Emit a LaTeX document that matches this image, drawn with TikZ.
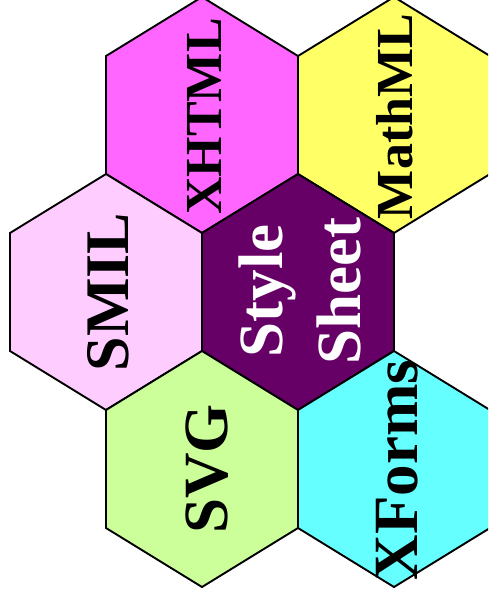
\documentclass[tikz,border=0pt]{standalone}
\usepackage{fontspec}
\setmainfont{Liberation Serif}
\definecolor{cxhtml}{HTML}{FF66FF}
\definecolor{cmathml}{HTML}{FFFF66}
\definecolor{csmil}{HTML}{FFCCFF}
\definecolor{cstyle}{HTML}{660066}
\definecolor{csvg}{HTML}{CCFF99}
\definecolor{cxforms}{HTML}{66FFFF}
\newcommand\hexa[3]{\path[hexline, fill=#3] (#1,#2-118) -- (#1+96,#2-59) -- (#1+96,#2+59) -- (#1,#2+118) -- (#1-96,#2+59) -- (#1-96,#2-59) -- cycle;}
\begin{document}
\begin{tikzpicture}[x=1pt,y=-1pt,
  hexline/.style={draw=black, line width=1.9pt, line join=miter},
  lab/.style={rotate=90, anchor=base, inner sep=0pt, font=\bfseries}]
\clip (0,0) rectangle (488,608);
\hexa{202}{115}{cxhtml}
\hexa{394}{115}{cmathml}
\hexa{106}{292}{csmil}
\hexa{298}{292}{cstyle}
\hexa{202}{469}{csvg}
\hexa{394}{469}{cxforms}
\node[lab, font=\bfseries\fontsize{52}{52}\selectfont] (xhtml) at (221,116.5) {XHTML};
\node[lab, font=\bfseries\fontsize{52}{52}\selectfont] (mathml) at (412,116.5) {MathML};
\node[lab, font=\bfseries\fontsize{62}{62}\selectfont] (smil) at (128,292) {SMIL};
\node[lab, font=\bfseries\fontsize{63}{63}\selectfont, text=white] (style) at (282,291) {Style};
\node[lab, font=\bfseries\fontsize{63}{63}\selectfont, text=white] (sheet) at (360,291.5) {Sheet};
\node[lab, font=\bfseries\fontsize{63}{63}\selectfont] (svg) at (227,469) {SVG};
\node[lab, font=\bfseries\fontsize{63}{63}\selectfont] (xforms) at (417,470) {XForms};
\end{tikzpicture}
\end{document}
